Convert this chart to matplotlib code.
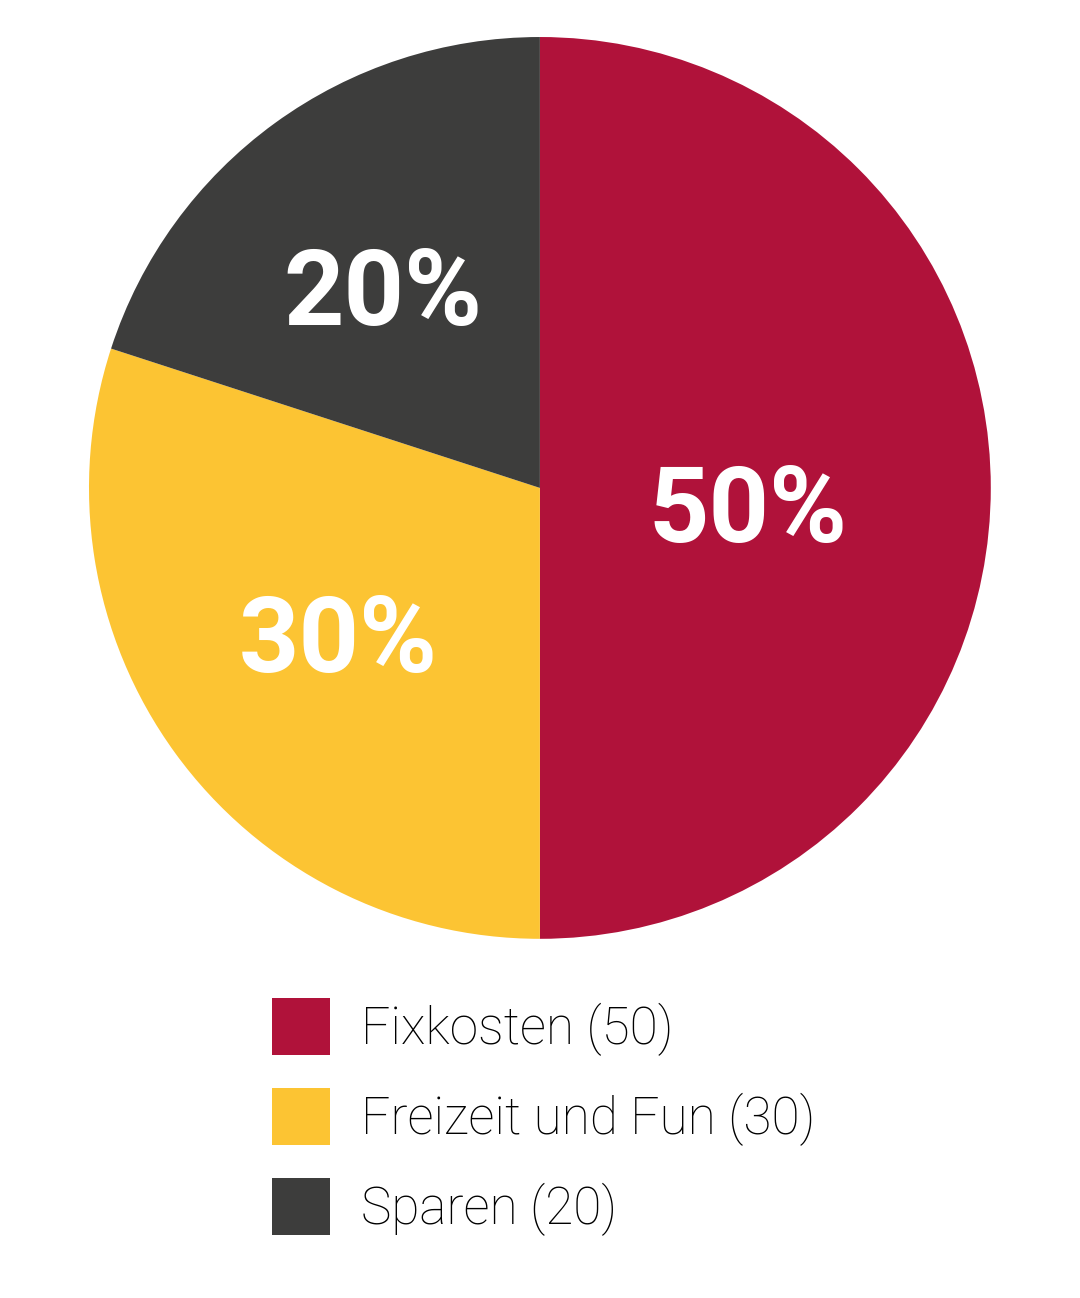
import numpy as np
import matplotlib.pyplot as plt

categories = ["Fixkosten", "Freizeit und Fun", "Sparen"]
values = [50, 30, 20]
colors = ["#B0123A", "#FCC433", "#3D3D3C"]
# label placement: radius and angular offset (deg) from wedge middle
label_r = [0.464, 0.565, 0.549]
label_off = [-7.0, 1.5, 3.3]

fig = plt.figure(figsize=(10.8, 12.98), dpi=100)
ax = fig.add_axes([0.0824, 0.2766, 0.835, 0.695])

wedges, texts, autotexts = ax.pie(values, colors=colors, startangle=90,
                                  counterclock=False, radius=1,
                                  autopct="%d%%", pctdistance=0.56,
                                  textprops={'color': 'white', 'fontsize': 76,
                                             'fontweight': 'bold',
                                             'family': 'Roboto'})
for w, t, r, off in zip(wedges, autotexts, label_r, label_off):
    mid = np.deg2rad((w.theta1 + w.theta2) / 2 + off)
    t.set_position((r * np.cos(mid), r * np.sin(mid)))
ax.set_xlim(-1, 1)
ax.set_ylim(-1, 1)
ax.set_aspect('equal')

labels = ["%s (%d)" % (c, v) for c, v in zip(categories, values)]
leg = fig.legend(wedges, labels, loc='upper left',
                 bbox_to_anchor=(272 / 1080, 1 - 998 / 1298),
                 frameon=False, handlelength=1.12,
                 handleheight=1.33, handletextpad=0.62, labelspacing=0.63,
                 borderaxespad=0, borderpad=0,
                 prop={'family': 'Roboto', 'weight': 'light', 'size': 37})

fig.savefig("out.png", dpi=100, facecolor='white')
